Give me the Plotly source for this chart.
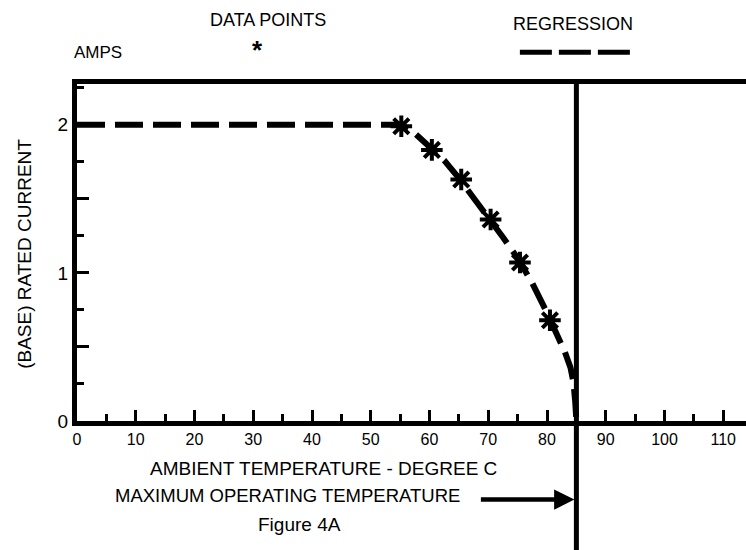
import plotly.graph_objects as go

# ---- data ----
reg_temp = [0, 55, 57, 60, 62.5, 65, 67.5, 70, 72.5, 75, 77.5, 80, 81, 82, 83, 84, 84.5, 84.8, 85]
reg_amps = [2.0, 2.0, 1.96, 1.85, 1.76, 1.64, 1.51, 1.38, 1.24, 1.10, 0.93, 0.73, 0.65, 0.56, 0.47, 0.36, 0.26, 0.13, 0.0]

pt_temp = [55.2, 60.4, 65.4, 70.4, 75.4, 80.5]
pt_amps = [1.99, 1.83, 1.63, 1.36, 1.07, 0.68]

max_temp = 85

x_tickvals = [0, 10, 20, 30, 40, 50, 60, 70, 80, 90, 100, 110]
x_ticktext = ["0", "10", "20", "30", "40", "50", "60", "70", "80", "90", "100", "110"]
y_tickvals = [0, 0.5, 1, 1.5, 2]
y_ticktext = ["0", "", "1", "", "2"]

FONT = "Liberation Sans, Arial, sans-serif"

fig = go.Figure()
fig.add_trace(go.Scatter(
    x=reg_temp, y=reg_amps, mode="lines",
    line=dict(color="black", width=6, dash="28px,10px"),
    hoverinfo="skip", showlegend=False,
))
fig.add_trace(go.Scatter(
    x=pt_temp, y=pt_amps, mode="markers",
    marker=dict(symbol="asterisk", size=18, color="black",
                line=dict(color="black", width=4)),
    showlegend=False,
))

# maximum operating temperature line
fig.add_shape(type="line", xref="x", yref="paper", x0=max_temp, x1=max_temp,
              y0=-0.45, y1=1.0, line=dict(color="black", width=5))

# legend sample of regression
fig.add_shape(type="line", xref="paper", yref="paper", x0=0.662, x1=0.83,
              y0=1.094, y1=1.094, line=dict(color="black", width=5, dash="32px,7px"))

ann = [
    dict(text="DATA POINTS", x=0.286, y=1.190, size=18),
    dict(text="REGRESSION", x=0.741, y=1.177, size=18),
    dict(text="AMPS", x=0.031, y=1.094, size=17),
    dict(text="AMBIENT TEMPERATURE - DEGREE C", x=0.369, y=-0.1416, size=19),
    dict(text="MAXIMUM OPERATING TEMPERATURE", x=0.3147, y=-0.221, size=18.5),
    dict(text="Figure 4A", x=0.332, y=-0.307, size=19),
]
for a in ann:
    fig.add_annotation(text=a["text"], x=a["x"], y=a["y"], xref="paper", yref="paper",
                       xanchor="center", yanchor="middle", showarrow=False,
                       font=dict(family=FONT, size=a["size"], color="black"))

# legend asterisk
fig.add_annotation(text="<b>*</b>", x=0.27, y=1.100, xref="paper", yref="paper",
                   xanchor="center", yanchor="middle", showarrow=False,
                   font=dict(family=FONT, size=26, color="black"))

# y-axis title
fig.add_annotation(text="(BASE) RATED CURRENT", x=-0.0777, y=0.496, xref="paper", yref="paper",
                   xanchor="center", yanchor="middle", showarrow=False, textangle=-90,
                   font=dict(family=FONT, size=19, color="black"))

# arrow to max temperature line
fig.add_annotation(text="", x=max_temp, y=-0.233, xref="x", yref="paper",
                   ax=-97, ay=0, axref="pixel", ayref="pixel", showarrow=True,
                   arrowhead=2, arrowsize=0.9, arrowwidth=4.5, arrowcolor="black", standoff=2)

fig.update_layout(
    width=746, height=550,
    margin=dict(l=77, r=0, t=84, b=129),
    paper_bgcolor="white", plot_bgcolor="white",
    showlegend=False,
    font=dict(family=FONT, color="black"),
)
fig.update_xaxes(
    range=[0, 113.87], showgrid=False, zeroline=False,
    showline=True, linecolor="black", linewidth=5, mirror=True,
    tickmode="array", tickvals=x_tickvals, ticktext=x_ticktext,
    ticks="inside", ticklen=11, tickwidth=3, tickcolor="black",
    tickfont=dict(family=FONT, size=16, color="black"),
    minor=dict(dtick=5, tick0=0, ticks="inside", ticklen=7, tickwidth=3, tickcolor="black", showgrid=False),
)
fig.update_yaxes(
    range=[0, 2.275], showgrid=False, zeroline=False,
    showline=True, linecolor="black", linewidth=5, mirror=False,
    tickmode="array", tickvals=y_tickvals, ticktext=y_ticktext,
    ticks="inside", ticklen=12, tickwidth=3, tickcolor="black",
    tickfont=dict(family=FONT, size=19, color="black"),
    minor=dict(dtick=0.25, tick0=0, ticks="inside", ticklen=7, tickwidth=3, tickcolor="black", showgrid=False),
)

fig.write_html("out.html", config={"displayModeBar": False},
               post_script="document.body.style.margin='0';")
